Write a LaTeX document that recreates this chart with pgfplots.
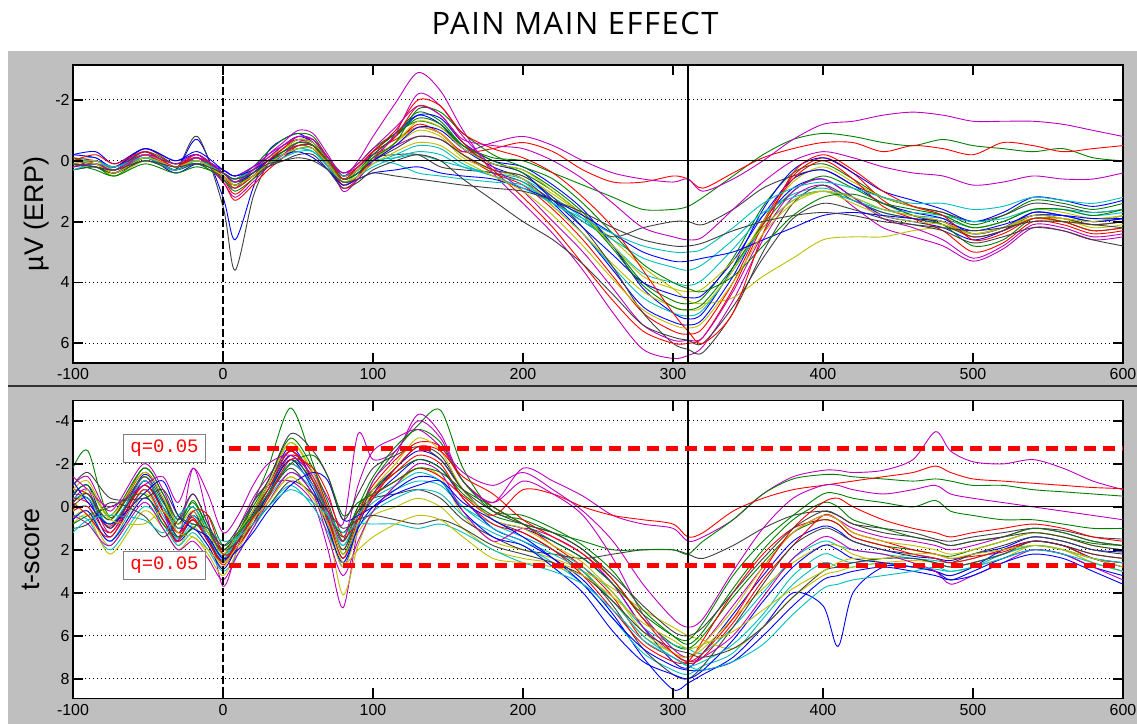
\documentclass[border=0pt]{standalone}
\usepackage{fontspec}
\setmainfont{Liberation Sans}
\newfontfamily\titlefont[LetterSpace=5]{Open Sans}
\newfontfamily\qfont{Liberation Mono}
\usepackage{pgfplots}
\usepackage{pgfplotstable}
\pgfplotsset{compat=1.18}

\definecolor{figgrey}{RGB}{191,191,191}
\definecolor{chblue}{RGB}{0,0,255}
\definecolor{chgreen}{RGB}{0,128,0}
\definecolor{chred}{RGB}{255,0,0}
\definecolor{chcyan}{RGB}{0,191,191}
\definecolor{chmagenta}{RGB}{191,0,191}
\definecolor{chyellow}{RGB}{191,191,0}
\definecolor{chgrey}{RGB}{64,64,64}

\pgfplotscreateplotcyclelist{eeg}{chblue\\chgreen\\chred\\chcyan\\chmagenta\\chyellow\\chgrey\\}

% ERP amplitude (microvolts), one row per channel, one column per latency (ms)
\pgfplotstableread[header=true]{
ch -100 -85 -72 -52 -32 -17 0 8 20 30 40 50 60 70 80 90 100 115 130 145 160 180 200 220 240 260 280 300 310 320 340 360 380 400 420 440 460 480 500 520 540 560 580 600
c1 0.2 0.1 0.3 -0.3 0.3 -0.7 1.2 2.6 0.9 -0.3 -0.7 -0.9 -0.6 0.0 0.7 0.5 -0.3 -0.9 -1.5 -1.2 -0.4 0.2 0.6 1.4 2.4 3.6 4.8 5.3 5.4 5.2 3.8 2.0 0.9 0.6 1.2 1.8 2.0 2.2 2.6 2.3 1.7 1.8 2.0 1.9
c2 0.3 0.2 0.5 -0.1 0.2 0.0 0.4 0.6 0.2 -0.3 -0.7 -0.9 -0.8 -0.1 0.5 0.2 -0.3 -0.9 -1.6 -1.3 -0.5 0.1 0.3 0.9 1.7 2.8 4.0 4.6 4.7 4.5 3.2 1.5 0.4 0.1 0.6 1.2 1.5 1.7 2.1 1.8 1.3 1.4 1.6 1.4
c3 -0.1 0.0 0.2 -0.4 0.1 -0.2 0.6 1.1 0.6 0.1 -0.2 -0.5 -0.4 0.2 0.9 0.6 0.0 -0.6 -1.2 -0.9 -0.2 0.4 0.8 1.6 2.6 3.8 5.0 5.6 5.7 5.5 4.0 2.0 0.5 -0.1 0.4 1.3 1.8 2.0 2.5 2.3 1.8 1.9 2.1 2.0
c4 0.0 -0.1 0.3 -0.2 0.3 -0.1 0.5 0.7 0.4 0.0 -0.3 -0.5 -0.4 0.1 0.6 0.4 0.0 -0.1 -0.2 0.0 0.2 0.4 0.6 1.2 1.9 2.8 3.7 4.0 4.1 3.9 2.9 1.8 1.1 0.9 1.2 1.6 1.8 1.9 2.2 2.0 1.6 1.6 1.8 1.7
c5 0.2 0.1 0.4 -0.2 0.2 -0.1 0.6 0.9 0.3 -0.2 -0.6 -1.0 -0.9 -0.2 0.5 0.0 -0.8 -1.9 -2.9 -2.3 -1.0 0.4 1.4 2.4 3.6 5.0 6.2 6.5 6.4 6.1 4.6 2.6 1.2 0.8 1.5 2.2 2.5 2.8 3.3 2.9 2.2 2.3 2.6 2.5
c6 0.1 0.2 0.3 -0.1 0.2 0.0 0.4 0.6 0.3 0.0 -0.3 -0.5 -0.5 0.1 0.7 0.4 0.0 -0.5 -1.0 -0.8 -0.1 0.3 0.5 1.1 1.8 2.6 3.5 4.2 4.6 4.7 4.5 3.8 3.2 2.6 2.5 2.5 2.3 2.2 2.4 2.2 1.9 2.0 2.1 2.0
c7 0.2 0.0 0.2 -0.2 0.3 -0.8 1.5 3.6 1.2 0.1 -0.4 -0.7 -0.5 0.1 0.6 0.4 -0.1 -0.2 -0.2 0.2 0.3 0.4 0.7 1.3 2.0 2.5 2.2 2.0 2.0 2.1 1.6 0.9 0.5 0.3 0.8 1.2 1.5 1.7 2.0 1.8 1.4 1.5 1.7 1.6
c8 0.1 0.2 0.4 -0.1 0.4 0.1 0.3 0.5 0.2 -0.1 -0.5 -0.8 -0.6 0.0 0.6 0.3 -0.2 -0.8 -1.5 -1.4 -0.6 0.0 0.2 0.8 1.6 2.8 4.2 5.0 5.2 5.0 3.5 1.6 0.3 -0.1 0.4 1.0 1.3 1.6 2.0 1.7 1.2 1.3 1.5 1.3
c9 -0.1 0.1 0.3 -0.3 0.1 -0.1 0.4 0.6 0.3 -0.1 -0.4 -0.7 -0.6 -0.1 0.4 0.1 -0.4 -0.9 -1.3 -1.1 -0.5 -0.1 0.0 0.4 0.8 1.2 1.6 1.6 1.5 1.2 0.5 -0.2 -0.7 -0.9 -0.8 -0.6 -0.5 -0.7 -0.5 -0.4 -0.3 -0.4 -0.1 0.0
c10 0.0 0.1 0.3 -0.2 0.2 0.0 0.5 0.8 0.4 0.0 -0.3 -0.6 -0.5 0.0 0.5 0.2 -0.3 -0.7 -1.1 -0.9 -0.3 -0.4 -0.6 -0.3 0.3 0.7 0.7 0.5 0.6 0.9 0.4 -0.1 -0.4 -0.6 -0.6 -0.3 -0.5 -0.4 -0.2 -0.6 -0.5 -0.3 -0.4 -0.5
c11 0.3 0.2 0.4 0.0 0.3 0.1 0.6 0.9 0.5 0.1 -0.2 -0.4 -0.3 0.2 0.8 0.5 0.1 -0.2 -0.5 -0.4 0.1 0.5 0.7 1.5 2.4 3.5 4.5 5.0 5.1 4.9 3.6 2.2 1.3 1.0 1.3 1.7 1.9 2.1 2.4 2.2 1.8 1.8 2.0 1.8
c12 0.1 0.0 0.2 -0.3 0.2 -0.1 0.3 0.5 0.2 -0.2 -0.5 -0.7 -0.5 0.0 0.4 0.2 -0.2 -0.5 -0.8 -0.7 -0.3 -0.6 -0.8 -0.5 0.0 0.4 0.6 0.7 0.6 1.0 0.6 0.0 -0.7 -1.2 -1.3 -1.5 -1.6 -1.5 -1.3 -1.3 -1.3 -1.2 -1.0 -0.8
c13 0.2 0.1 0.5 0.0 0.3 0.0 0.5 0.8 0.4 -0.1 -0.4 -0.6 -0.6 0.1 0.8 0.5 0.0 -0.6 -1.1 -0.9 -0.2 0.3 0.6 1.5 2.4 3.4 4.3 4.8 4.9 4.8 3.6 2.0 0.7 0.2 0.7 1.2 1.5 1.8 2.2 2.0 1.6 1.7 1.9 1.8
c14 0.0 0.1 0.2 -0.2 0.1 0.0 0.5 0.8 0.4 0.0 -0.3 -0.5 -0.5 0.0 0.5 0.3 0.0 -0.4 -0.8 -0.7 -0.2 0.3 0.5 1.2 2.2 3.5 5.0 6.0 6.2 6.3 5.0 3.0 1.4 0.8 1.3 1.7 1.9 2.1 2.5 2.3 1.9 1.9 2.1 2.0
c15 -0.2 -0.1 0.2 -0.4 0.0 -0.2 0.4 0.7 0.4 0.0 -0.4 -0.7 -0.6 0.0 0.6 0.4 0.0 -0.5 -1.1 -1.0 -0.4 0.1 0.4 1.3 2.2 3.1 4.0 4.4 4.5 4.4 3.3 1.8 0.6 0.3 0.8 1.4 1.7 1.9 2.4 2.2 1.7 1.8 2.0 1.9
c16 0.1 0.2 0.4 -0.1 0.2 0.1 0.6 1.0 0.6 0.2 -0.1 -0.4 -0.4 0.1 0.6 0.3 -0.2 -0.8 -1.4 -1.2 -0.5 0.0 0.4 1.0 1.8 2.9 4.1 4.8 4.9 4.7 3.5 2.1 1.0 0.5 0.9 1.4 1.8 2.1 2.8 2.6 1.9 2.0 2.3 2.2
c17 0.2 0.1 0.3 -0.2 0.2 -0.1 0.7 1.3 0.8 0.3 -0.1 -0.5 -0.5 0.1 0.8 0.5 -0.1 -0.8 -1.8 -1.5 -0.6 0.3 1.2 2.2 3.4 4.6 5.6 6.0 6.0 5.8 4.2 2.1 0.6 0.0 0.6 1.5 1.9 2.3 3.0 2.7 2.0 2.1 2.4 2.3
c18 0.0 0.0 0.2 -0.1 0.2 0.0 0.4 0.6 0.3 0.0 -0.2 -0.4 -0.3 0.1 0.5 0.3 0.0 0.1 0.4 0.5 0.6 0.7 0.8 1.4 2.0 2.6 3.2 3.5 3.6 3.4 2.6 1.7 1.2 1.0 1.3 1.6 1.7 1.8 2.0 1.9 1.6 1.6 1.7 1.6
c19 0.2 0.1 0.4 -0.2 0.3 -0.1 0.7 1.2 0.7 0.2 -0.2 -0.6 -0.7 0.0 1.0 0.6 0.0 -0.9 -2.2 -1.8 -0.8 0.2 1.0 2.0 3.0 4.2 5.4 5.9 5.9 5.8 4.3 2.4 1.0 0.6 1.2 1.9 2.2 2.6 3.2 2.8 2.1 2.2 2.5 2.4
c20 0.1 0.0 0.3 -0.2 0.2 0.0 0.5 0.7 0.3 -0.1 -0.4 -0.7 -0.6 0.0 0.6 0.3 -0.1 -0.6 -1.3 -1.1 -0.4 0.1 0.3 1.0 1.8 2.8 3.8 4.2 4.3 4.2 3.3 2.2 1.3 1.0 1.4 1.8 2.0 2.1 2.4 2.2 1.9 1.9 2.0 1.8
c21 0.3 0.2 0.4 0.0 0.3 0.1 0.4 0.7 0.5 0.2 0.0 -0.2 -0.2 0.3 0.9 0.7 0.3 0.0 -0.2 0.0 0.6 1.3 2.0 2.6 3.4 4.4 5.4 5.8 5.9 6.0 4.8 3.2 1.9 1.4 1.6 1.9 2.1 2.3 2.7 2.5 2.2 2.3 2.6 2.8
c22 -0.2 -0.3 0.1 -0.4 0.0 -0.3 0.3 0.5 0.3 0.0 -0.2 -0.3 -0.1 0.3 0.8 0.6 0.4 0.3 0.2 0.4 0.5 0.6 0.9 1.3 1.8 2.4 3.0 3.3 3.3 3.2 3.0 2.6 2.2 1.8 1.7 1.8 1.9 2.0 2.3 2.1 1.8 1.8 1.9 1.9
c23 0.1 0.3 0.5 0.1 0.4 0.2 0.5 0.8 0.5 0.1 -0.3 -0.6 -0.5 0.0 0.6 0.4 -0.1 -0.6 -1.7 -1.6 -0.9 -0.2 0.2 0.6 1.4 2.4 3.4 4.0 4.2 4.3 3.8 2.8 1.8 1.2 1.1 1.4 1.6 1.8 2.2 2.0 1.6 1.6 1.8 1.6
c24 0.0 -0.2 0.1 -0.3 0.2 -0.2 0.5 0.9 0.5 0.0 -0.4 -0.8 -0.7 -0.1 0.6 0.2 -0.3 -1.0 -2.0 -1.8 -0.9 -0.4 -0.1 0.4 1.2 2.2 3.6 5.0 5.6 6.0 5.0 2.4 0.4 -0.2 0.3 1.0 1.5 1.8 2.6 2.4 1.9 2.0 2.3 2.2
c25 0.3 0.1 0.2 -0.1 0.3 0.0 0.4 0.6 0.4 0.1 -0.1 -0.3 -0.3 0.2 0.7 0.5 0.2 -0.1 -0.3 -0.2 0.2 0.5 0.9 1.4 1.9 2.4 2.8 3.0 3.0 2.9 2.2 1.4 0.9 0.7 0.9 1.2 1.4 1.4 1.6 1.5 1.2 1.3 1.4 1.2
c26 0.2 0.1 0.3 -0.2 0.1 -0.2 0.4 0.7 0.3 -0.1 -0.5 -0.8 -0.7 -0.1 0.4 0.1 -0.4 -1.1 -1.8 -1.5 -0.7 -0.5 -0.4 0.0 0.6 1.4 2.2 2.5 2.6 2.5 1.6 0.7 0.0 -0.3 -0.1 0.2 0.4 0.5 0.8 0.7 0.5 0.6 0.6 0.4
c27 0.0 0.1 0.4 -0.1 0.2 0.0 0.5 0.8 0.5 0.1 -0.2 -0.4 -0.4 0.1 0.7 0.5 0.1 -0.3 -0.6 -0.5 0.0 0.5 1.0 1.8 2.8 3.9 4.9 5.4 5.5 5.3 4.0 2.4 1.4 1.0 1.2 1.6 1.8 2.0 2.4 2.2 1.8 1.9 2.2 2.1
c28 0.1 0.2 0.3 0.0 0.2 0.1 0.4 0.6 0.4 0.1 0.0 -0.1 0.0 0.3 0.7 0.6 0.4 0.5 0.6 0.7 0.8 0.9 1.0 1.3 1.7 2.2 2.6 2.8 2.8 2.7 2.3 2.0 1.8 1.7 1.8 2.0 2.1 2.2 2.3 2.2 2.0 2.0 2.1 2.2
}\erptoprows
\pgfplotstabletranspose[colnames from=ch,input colnames to=t]\erptop\erptoprows

% t-scores, same layout
\pgfplotstableread[header=true]{
ch -100 -90 -75 -53 -40 -30 -20 -10 0 10 20 30 45 60 70 80 90 100 115 130 145 160 180 200 220 240 260 280 300 310 320 340 360 380 400 410 420 440 460 475 485 500 520 540 560 580 600
c1 -0.5 -1.0 1.0 -1.5 -0.3 1.2 0.2 1.5 2.6 1.6 0.3 -1.0 -2.8 -1.2 0.8 2.8 0.9 -0.6 -1.8 -2.6 -2.2 -0.8 0.6 1.0 1.6 2.4 3.6 5.6 7.2 7.5 6.8 5.0 3.2 1.6 0.9 1.1 1.6 2.0 2.3 2.4 2.5 2.2 1.9 1.4 1.6 2.0 2.1
c2 -1.8 -2.6 0.5 -1.8 -0.6 0.8 -0.3 1.0 2.2 1.2 -0.2 -1.8 -4.6 -2.0 0.2 2.2 0.4 -1.2 -2.6 -3.8 -4.5 -1.8 0.2 0.6 1.2 2.0 3.4 5.2 6.4 6.6 6.0 4.2 2.6 1.2 0.6 0.8 1.4 1.8 2.0 2.2 2.3 2.0 1.6 1.2 1.4 1.7 1.8
c3 -0.8 -0.6 0.6 -1.6 -0.4 1.0 0.5 1.6 2.7 1.8 0.6 -0.6 -2.4 -1.6 0.0 1.6 0.2 -1.0 -2.2 -3.0 -2.8 -1.2 0.0 0.8 1.8 2.8 4.2 6.2 7.0 7.3 7.0 5.4 3.4 1.8 0.4 0.6 1.2 1.6 2.0 2.2 2.4 2.3 2.1 1.6 1.8 2.2 2.4
c4 0.2 0.0 1.6 -0.8 0.4 1.5 0.8 1.4 2.3 1.4 0.6 -0.4 -1.6 -0.8 0.6 1.8 0.6 -0.2 -0.8 -1.2 -1.0 0.0 0.8 1.4 2.0 2.8 4.0 5.6 6.4 6.6 6.8 5.6 4.0 2.4 1.6 1.8 2.0 2.2 2.4 2.5 2.6 2.4 2.0 1.6 1.8 2.4 2.6
c5 -0.3 -0.8 1.2 -1.4 0.2 1.6 -1.8 0.6 3.7 1.8 -0.2 -1.0 -1.2 -0.2 2.0 4.7 1.0 -1.2 -2.4 -4.3 -3.4 -1.2 -0.2 -1.8 -1.2 -0.5 0.4 0.8 1.0 1.6 1.4 0.6 -0.6 -1.4 -1.7 -1.7 -1.6 -1.7 -2.2 -3.5 -2.6 -2.1 -2.0 -2.2 -1.8 -1.2 -0.8
c6 0.5 0.2 1.8 -0.6 0.6 1.8 0.9 1.8 2.8 1.5 0.2 -1.2 -3.0 -1.4 1.0 4.1 1.8 0.2 -1.0 -1.8 -1.4 0.4 1.6 2.0 2.4 3.0 4.4 6.0 6.8 7.0 6.6 5.2 3.8 2.6 1.8 1.8 2.2 2.6 2.8 3.0 3.2 2.8 2.4 1.8 2.0 2.6 3.0
c7 -0.6 -0.4 0.8 -1.0 0.0 1.0 0.4 1.2 2.0 1.3 0.5 -0.5 -1.8 -0.6 0.5 1.2 0.2 -0.4 -0.6 -0.8 -0.4 0.6 1.4 2.0 2.2 2.4 2.2 2.0 2.0 2.2 2.4 1.8 1.0 0.4 0.2 0.4 0.8 1.0 1.2 1.5 1.6 1.4 1.2 1.0 1.1 1.4 1.5
c8 0.0 -0.4 1.4 -1.2 0.2 1.4 0.6 1.6 2.5 1.6 0.4 -0.8 -2.4 -1.0 0.6 2.4 0.8 -0.4 -1.4 -2.2 -1.8 -0.4 1.0 1.6 2.4 3.4 5.0 7.0 8.5 8.2 7.8 7.0 5.6 4.0 4.6 6.5 4.0 2.8 2.8 3.0 3.4 3.0 2.4 2.0 2.2 2.8 3.2
c9 -0.2 -0.6 0.6 -1.4 -0.2 0.8 0.0 1.2 2.0 1.2 0.2 -0.8 -2.2 -1.2 0.2 1.4 0.0 -0.8 -1.6 -2.2 -1.8 -0.6 0.4 0.8 1.2 1.6 2.0 2.0 2.0 2.2 1.6 0.6 -0.6 -1.3 -1.5 -1.5 -1.4 -1.3 -1.2 -1.3 -1.2 -1.0 -1.0 -0.8 -0.7 -0.6 -0.5
c10 -0.4 -0.2 0.9 -1.0 0.2 1.2 0.6 1.4 2.4 1.6 0.5 -0.6 -2.0 -1.0 0.6 2.0 0.4 -0.5 -1.2 -1.8 -1.4 -0.5 0.4 -0.8 -0.6 0.0 0.4 0.6 0.8 1.4 1.2 0.2 -0.4 -0.8 -1.0 -1.1 -1.2 -1.4 -1.6 -1.9 -1.6 -1.3 -1.2 -1.1 -1.0 -0.9 -0.85
c11 0.4 0.6 2.0 0.0 0.8 1.8 1.2 2.0 3.0 2.2 1.0 0.0 -1.0 0.0 1.2 2.6 1.0 0.2 -0.4 -0.8 -0.6 0.4 1.2 1.8 2.6 3.6 5.2 6.8 7.6 7.8 7.4 6.8 5.2 3.6 2.6 2.8 2.8 2.6 2.8 2.9 3.0 2.8 2.2 1.8 2.0 2.4 2.6
c12 -1.0 -1.4 0.2 -2.0 -0.8 0.6 -0.6 0.8 2.2 1.0 -0.4 -1.4 -2.6 -1.6 -0.4 0.8 -3.4 -2.2 -2.6 -4.0 -3.2 -1.2 -0.2 -1.2 -0.6 0.4 2.4 5.0 6.6 7.0 6.4 4.6 2.8 1.2 0.4 0.6 1.0 1.4 1.6 1.8 2.0 1.8 1.4 1.0 1.2 1.6 1.8
c13 0.8 0.4 2.2 0.2 1.0 2.0 1.4 2.2 3.2 2.0 0.8 -0.2 -1.4 -0.4 1.0 2.8 1.2 0.4 0.0 -0.4 0.0 1.0 2.0 2.4 2.6 3.0 3.8 4.8 5.6 6.0 6.2 6.6 5.6 4.2 3.2 3.0 2.8 2.6 2.5 2.6 2.8 2.6 2.2 1.8 2.0 2.6 3.0
c14 -0.2 -0.6 1.0 -1.2 0.0 1.4 0.4 1.4 2.6 1.4 0.2 -1.0 -2.6 -1.2 0.4 2.0 0.4 -0.8 -1.8 -2.8 -2.4 -0.8 0.6 1.2 2.0 3.0 4.6 6.6 7.8 8.0 7.4 5.6 3.6 1.8 1.0 1.2 1.6 2.0 2.2 2.4 2.6 2.2 1.8 1.4 1.6 2.0 2.2
c15 0.6 0.2 1.6 -0.4 0.6 1.6 1.0 1.8 2.9 1.8 0.8 -0.6 -2.2 -0.8 1.0 2.6 1.0 0.0 -0.8 -1.4 -1.2 0.2 1.4 1.8 2.8 4.0 5.8 7.2 7.8 8.0 7.6 6.2 4.4 2.8 1.8 2.0 2.4 2.6 2.8 3.0 3.2 2.8 2.0 1.6 1.8 2.4 2.8
c16 -0.6 -1.0 0.4 -1.8 -0.6 0.6 -0.2 1.0 2.2 1.2 0.0 -1.2 -3.2 -1.8 -0.2 1.6 0.0 -1.4 -2.8 -3.6 -3.0 -1.2 0.2 0.4 1.0 1.8 3.0 4.8 6.0 6.4 5.8 3.8 2.0 0.6 -0.2 0.0 0.6 1.0 1.4 1.6 1.8 1.6 1.4 1.0 1.2 1.6 1.8
c17 0.2 0.0 1.2 -1.0 0.2 1.2 0.6 1.6 2.6 1.6 0.4 -0.8 -2.6 -1.2 0.6 2.4 0.6 -0.6 -1.6 -2.4 -2.0 -0.4 0.8 1.2 2.0 3.2 4.8 6.4 7.2 7.2 6.2 4.0 2.2 1.0 0.6 0.8 1.4 1.8 2.2 2.4 2.6 2.4 2.0 1.6 1.8 2.4 2.6
c18 -0.4 -0.4 0.8 -1.2 0.0 1.0 0.4 1.4 2.4 1.4 0.4 -0.6 -2.0 -1.0 0.4 1.8 0.4 -0.4 -1.0 -1.6 -1.2 0.0 1.0 1.6 2.2 3.0 4.4 6.0 7.0 7.4 7.2 6.4 5.0 3.2 2.2 2.4 2.6 2.4 2.4 2.6 2.8 2.6 2.2 1.8 2.0 2.4 2.6
c19 0.4 0.8 1.8 -0.2 1.0 2.0 1.6 2.4 3.4 2.2 1.0 -0.2 -1.6 -0.6 1.4 3.2 1.6 0.2 -1.0 -2.0 -1.6 0.2 1.6 1.0 1.4 2.2 3.6 5.6 6.8 7.2 7.0 6.0 4.2 2.4 1.4 1.6 2.0 2.2 2.6 3.0 3.6 3.2 2.6 2.0 2.2 2.8 3.4
c20 -0.8 -1.2 0.4 -1.6 -0.4 0.8 0.2 1.2 2.2 1.2 0.2 -1.0 -3.0 -1.6 0.2 2.2 0.8 -0.8 -2.0 -3.2 -2.6 -0.8 0.6 1.0 1.8 2.6 4.0 5.8 6.8 7.0 6.4 4.8 2.8 1.2 0.4 0.6 1.2 1.6 1.8 2.0 2.2 2.0 1.6 1.2 1.4 1.8 2.0
c21 1.0 0.8 -0.2 0.4 1.4 0.6 -0.6 0.8 2.0 1.6 0.8 0.0 -1.2 -0.6 0.2 1.0 0.6 0.4 0.6 0.8 0.6 1.0 1.8 2.2 2.6 3.2 4.4 5.8 6.6 6.8 7.0 6.6 5.6 4.2 3.0 2.8 2.6 2.4 2.4 2.6 2.8 2.6 2.2 1.6 1.8 2.2 2.4
c22 -1.2 -0.2 0.8 -0.6 -1.2 0.4 1.0 1.4 2.4 2.0 1.2 0.2 -1.0 -1.6 -1.2 0.6 0.4 0.0 -0.6 -1.0 -1.2 -0.2 0.6 1.4 2.4 3.6 5.2 6.6 7.4 7.6 7.6 7.2 6.0 4.6 3.4 3.2 3.0 2.8 3.0 3.2 3.4 3.2 2.6 2.2 2.4 3.0 3.6
c23 0.8 0.4 0.0 -0.6 0.8 1.4 1.0 0.4 1.8 1.2 0.4 -0.6 -2.0 -2.4 -1.4 0.4 -0.2 -0.6 -1.2 -1.8 -1.6 -0.8 0.0 0.8 1.6 2.4 3.6 5.0 6.0 6.2 5.4 3.2 1.6 0.4 -0.6 -0.6 -0.4 -0.2 0.0 -0.3 0.2 0.4 0.6 0.6 0.8 1.0 1.0
c24 -0.2 0.4 1.4 -0.8 0.6 1.6 0.2 0.4 2.2 1.8 0.8 -0.4 -2.2 -1.8 -0.6 1.4 0.6 -0.4 -1.8 -2.8 -2.6 -1.4 -0.6 0.6 1.4 2.2 3.4 5.2 6.8 7.2 6.8 5.2 3.0 1.0 -0.2 -0.4 0.0 0.6 1.0 1.2 1.4 1.2 1.0 0.8 1.0 1.4 1.6
c25 1.2 0.6 0.4 0.6 1.2 0.4 0.0 1.0 1.6 1.4 0.8 0.0 -0.8 -0.2 0.4 1.2 0.8 0.8 0.8 1.0 0.8 1.2 2.0 2.6 3.0 3.6 4.8 6.2 7.0 7.4 7.6 7.2 6.4 5.0 3.8 3.6 3.4 3.2 3.0 2.8 3.0 2.8 2.4 2.0 2.2 2.6 3.0
c26 -1.4 -0.8 0.0 -1.0 -1.4 -0.2 -1.8 -0.6 1.2 0.4 -1.0 -2.0 -2.4 -1.4 0.2 1.6 -1.0 -2.6 -3.2 -3.6 -2.8 -1.6 -1.0 -1.6 -0.8 0.2 1.6 3.6 5.2 5.6 5.2 3.0 1.0 -0.4 -1.0 -1.0 -0.8 -0.6 -0.8 -1.0 -0.6 -0.4 -0.2 0.0 0.2 0.4 0.6
c27 0.2 -0.8 0.6 0.8 0.2 1.2 1.4 2.0 2.6 1.8 0.6 -0.2 -1.4 -0.4 0.8 2.6 2.0 1.4 0.8 0.4 0.6 1.4 2.4 2.6 2.8 3.2 4.2 5.4 6.2 6.6 6.4 5.8 4.8 3.8 3.0 2.6 2.4 2.4 2.2 2.2 2.4 2.2 2.0 1.8 2.0 2.4 2.8
c28 -1.0 -1.6 -0.4 -0.4 -0.8 0.4 0.8 1.0 1.8 1.0 -0.2 -1.2 -3.4 -2.6 -1.4 0.6 -0.6 -1.8 -2.4 -2.8 -2.2 -0.8 0.2 0.8 1.2 2.0 3.2 4.6 5.8 6.0 5.6 4.0 2.4 1.0 0.2 0.4 0.8 1.2 1.4 1.6 1.8 1.6 1.4 1.2 1.4 1.8 2.0
}\tscorerows
\pgfplotstabletranspose[colnames from=ch,input colnames to=t]\tscore\tscorerows

\pgfplotsset{
  butterfly/.style={
    scale only axis, width=1050bp, height=298bp,
    xmin=-100, xmax=600, xtick={-100,0,...,600},
    y dir=reverse,
    axis background/.style={fill=white},
    axis line style={line width=1.3bp, black},
    major tick length=0pt,
    ymajorgrids,
    major grid style={line width=1bp, black, dash pattern=on 1bp off 3bp},
    tick label style={font=\fontsize{16}{16}\selectfont},
    /pgf/number format/assume math mode=true,
    xticklabel pos=lower, yticklabel pos=left,
    xticklabel style={yshift=-2bp},
    label style={font=\fontsize{27}{27}\selectfont},
    cycle list name=eeg,
    every axis plot/.append style={line width=0.9bp, smooth},
  },
  axistick/.style={black, line width=1.8bp, sharp plot, forget plot},
}
\tikzset{
  qbox/.style={draw=black!50, fill=white, text=red, line width=1bp,
    font=\qfont\fontsize{19}{19}\selectfont,
    minimum width=82bp, minimum height=28bp, inner sep=0pt},
}

\begin{document}
\begin{tikzpicture}
\useasboundingbox (0bp,0bp) rectangle (1137bp,-724bp);
\fill[figgrey] (8bp,-51bp) rectangle (1137bp,-724bp);
\draw[black!80, line width=1.2bp] (8bp,-386bp) -- (1137bp,-386bp);
\node[font=\titlefont\fontsize{31}{38}\selectfont] at (575bp,-23bp) {PAIN MAIN EFFECT};

% upper panel: channel ERPs
\begin{axis}[butterfly, at={(598bp,-214bp)}, anchor=center,
  ymin=-3.15, ymax=6.65, ytick={-2,0,2,4,6},
  ylabel={µV (ERP)},
  ylabel style={at={(axis description cs:-0.0343,0.5)}, anchor=center}]
\pgfplotsinvokeforeach{1,...,28}{\addplot table[x=t,y=c#1]{\erptop};}
\addplot[black, line width=0.8bp, sharp plot] coordinates {(0,0) (600,0)};
\addplot[black, line width=1.6bp, dash pattern=on 8bp off 3bp, sharp plot] coordinates {(0,-3.15) (0,6.65)};
\addplot[black, line width=1.8bp, sharp plot] coordinates {(310,-3.15) (310,6.65)};
% inward tick marks on all four sides
\pgfplotsinvokeforeach{-100,0,100,200,300,400,500,600}{
  \addplot[axistick] coordinates {(#1,6.65) (#1,6.32)};
  \addplot[axistick] coordinates {(#1,-3.15) (#1,-2.82)};
}
\pgfplotsinvokeforeach{-2,0,2,4,6}{
  \addplot[axistick] coordinates {(-100,#1) (-93.3,#1)};
  \addplot[axistick] coordinates {(600,#1) (593.3,#1)};
}
\end{axis}

% lower panel: channel t-scores with FDR thresholds
\begin{axis}[butterfly, at={(598bp,-549.5bp)}, anchor=center,
  ymin=-4.95, ymax=8.92, ytick={-4,-2,...,8},
  ylabel={t-score},
  ylabel style={at={(axis description cs:-0.04,0.5)}, anchor=center}]
\pgfplotsinvokeforeach{1,...,28}{\addplot table[x=t,y=c#1]{\tscore};}
\addplot[black, line width=0.8bp, sharp plot] coordinates {(0,0) (600,0)};
\addplot[black, line width=1.6bp, dash pattern=on 8bp off 3bp, sharp plot] coordinates {(0,-4.95) (0,8.92)};
\addplot[black, line width=1.8bp, sharp plot] coordinates {(310,-4.95) (310,8.92)};
\addplot[red, line width=5bp, dash pattern=on 12bp off 7bp, sharp plot] coordinates {(4,-2.72) (600,-2.72)};
\addplot[red, line width=5bp, dash pattern=on 12bp off 7bp, sharp plot] coordinates {(4,2.72) (600,2.72)};
\node[qbox] at (axis cs:-39,-2.72) {q=0.05};
\node[qbox] at (axis cs:-39,2.72) {q=0.05};
\pgfplotsinvokeforeach{-100,0,100,200,300,400,500,600}{
  \addplot[axistick] coordinates {(#1,8.92) (#1,8.45)};
  \addplot[axistick] coordinates {(#1,-4.95) (#1,-4.48)};
}
\pgfplotsinvokeforeach{-4,-2,0,2,4,6,8}{
  \addplot[axistick] coordinates {(-100,#1) (-93.3,#1)};
  \addplot[axistick] coordinates {(600,#1) (593.3,#1)};
}
\end{axis}
\end{tikzpicture}
\end{document}
